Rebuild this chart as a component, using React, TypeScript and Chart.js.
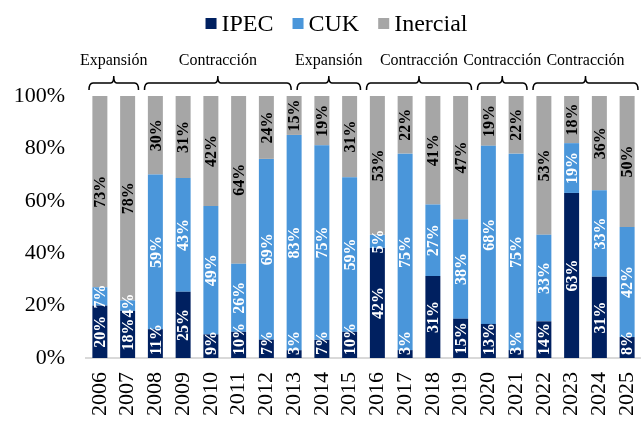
import React, { useEffect, useRef } from "react";
import { Chart, registerables } from "chart.js";

Chart.register(...registerables);

const years = ["2006", "2007", "2008", "2009", "2010", "2011", "2012", "2013", "2014", "2015", "2016", "2017", "2018", "2019", "2020", "2021", "2022", "2023", "2024", "2025"];
const ipec = [20, 18, 11, 25, 9, 10, 7, 3, 7, 10, 42, 3, 31, 15, 13, 3, 14, 63, 31, 8];
const cuk = [7, 4, 59, 43, 49, 26, 69, 83, 75, 59, 5, 75, 27, 38, 68, 75, 33, 19, 33, 42];
const inercial = [73, 78, 30, 31, 42, 64, 24, 15, 19, 31, 53, 22, 41, 47, 19, 22, 53, 18, 36, 50];
const seriesNames = ["IPEC", "CUK", "Inercial"];
const seriesColors = ["#002060", "#4A96DA", "#A6A6A6"];
const labelColors = ["#FFFFFF", "#FFFFFF", "#000000"];
const yTickValues = [0, 20, 40, 60, 80, 100];
const phaseLabels = ["Expansión", "Contracción", "Expansión", "Contracción", "Contracción", "Contracción"];
const phaseStart = [-0.5, 1.5, 7, 9.5, 13.5, 15.5];
const phaseEnd = [1.5, 7, 9.5, 13.5, 15.5, 19.5];

const FONT = '"Liberation Serif", "Times New Roman", serif';
const rawSeries = [ipec, cuk, inercial];
const totals = years.map((_, i) => ipec[i] + cuk[i] + inercial[i]);

const legendPlugin = {
  id: "customLegend",
  afterDraw(chart: any) {
    const ctx = chart.ctx;
    ctx.save();
    ctx.font = `24px ${FONT}`;
    const box = 11;
    const gapText = 5;
    const gapItem = 19;
    const ds = chart.data.datasets;
    const widths = ds.map((d: any) => ctx.measureText(d.label).width);
    let total = 0;
    widths.forEach((w: number, i: number) => {
      total += box + gapText + w + (i < widths.length - 1 ? gapItem : 0);
    });
    let x = 336.5 - total / 2;
    ds.forEach((d: any, i: number) => {
      ctx.fillStyle = d.backgroundColor;
      ctx.fillRect(x, 18, box, box);
      x += box + gapText;
      ctx.fillStyle = "#000";
      ctx.textAlign = "left";
      ctx.textBaseline = "alphabetic";
      ctx.fillText(d.label, x, 31);
      x += widths[i] + gapItem;
    });
    ctx.restore();
  },
};

const bracketPlugin = {
  id: "brackets",
  afterDraw(chart: any) {
    const ctx = chart.ctx;
    const xs = chart.scales.x;
    ctx.save();
    ctx.strokeStyle = "#000";
    ctx.lineWidth = 1.5;
    ctx.font = `16px ${FONT}`;
    ctx.fillStyle = "#000";
    ctx.textAlign = "center";
    ctx.textBaseline = "alphabetic";
    const yLine = 83;
    const yEnd = 90;
    const yTip = 76;
    phaseLabels.forEach((lab, i) => {
      const x0 = xs.getPixelForValue(phaseStart[i]) + 3;
      const x1 = xs.getPixelForValue(phaseEnd[i]) - 3;
      const xc = (x0 + x1) / 2;
      ctx.beginPath();
      ctx.moveTo(x0, yEnd);
      ctx.quadraticCurveTo(x0, yLine, x0 + 4, yLine);
      ctx.lineTo(xc - 3, yLine);
      ctx.quadraticCurveTo(xc, yLine, xc, yTip);
      ctx.quadraticCurveTo(xc, yLine, xc + 3, yLine);
      ctx.lineTo(x1 - 4, yLine);
      ctx.quadraticCurveTo(x1, yLine, x1, yEnd);
      ctx.stroke();
      ctx.fillText(lab, xc, 65);
    });
    ctx.restore();
  },
};

const valueLabelPlugin = {
  id: "valueLabels",
  afterDatasetsDraw(chart: any) {
    const ctx = chart.ctx;
    const area = chart.chartArea;
    ctx.save();
    ctx.font = `bold 16px ${FONT}`;
    ctx.textAlign = "center";
    ctx.textBaseline = "middle";
    chart.data.datasets.forEach((_: any, d: number) => {
      const meta = chart.getDatasetMeta(d);
      meta.data.forEach((el: any, i: number) => {
        const { x, y, base } = el.getProps(["x", "y", "base"], true);
        const text = `${rawSeries[d][i]}%`;
        const half = ctx.measureText(text).width / 2;
        let cy = (y + base) / 2;
        cy = Math.min(cy, area.bottom - half - 3);
        ctx.save();
        ctx.translate(x, cy);
        ctx.rotate(-Math.PI / 2);
        ctx.fillStyle = labelColors[d];
        ctx.fillText(text, 0, 1);
        ctx.restore();
      });
    });
    ctx.restore();
  },
};

export default function App() {
  const canvasRef = useRef<HTMLCanvasElement | null>(null);

  useEffect(() => {
    if (!canvasRef.current) return;
    const datasets = rawSeries.map((arr, d) => ({
      label: seriesNames[d],
      data: arr.map((v, i) => (v / totals[i]) * 100),
      backgroundColor: seriesColors[d],
      borderWidth: 0,
      barPercentage: 0.54,
      categoryPercentage: 1,
    }));
    const chart = new Chart(canvasRef.current, {
      type: "bar",
      data: { labels: years, datasets },
      options: {
        animation: false,
        responsive: false,
        maintainAspectRatio: false,
        layout: { padding: { top: 96, left: 12, right: 0, bottom: 0 } },
        plugins: {
          legend: { display: false },
          tooltip: { enabled: false },
          title: { display: false },
        },
        scales: {
          x: {
            stacked: true,
            grid: { display: false, drawTicks: false },
            border: { display: true, color: "#D9D9D9", width: 2 },
            ticks: {
              color: "#000",
              font: { family: FONT, size: 22 },
              minRotation: 90,
              maxRotation: 90,
              autoSkip: false,
              padding: 14,
            },
            afterFit(scale: any) {
              scale.height = 63;
              scale.paddingLeft = 0;
              scale.paddingRight = 0;
            },
          },
          y: {
            stacked: true,
            min: 0,
            max: 100,
            grid: { display: false, drawTicks: false },
            border: { display: false },
            afterBuildTicks(scale: any) {
              scale.ticks = yTickValues.map((v) => ({ value: v }));
            },
            ticks: {
              color: "#000",
              font: { family: FONT, size: 22 },
              padding: 21,
              callback: (v: any) => `${v}%`,
            },
            afterFit(scale: any) {
              scale.width = 74;
              scale.paddingTop = 0;
              scale.paddingBottom = 0;
            },
          },
        },
      },
      plugins: [legendPlugin, bracketPlugin, valueLabelPlugin],
    });
    return () => chart.destroy();
  }, []);

  return (
    <div style={{ position: "fixed", left: 0, top: 0, width: 641, height: 421, background: "#fff" }}>
      <canvas ref={canvasRef} width={641} height={421} style={{ display: "block" }} />
    </div>
  );
}
